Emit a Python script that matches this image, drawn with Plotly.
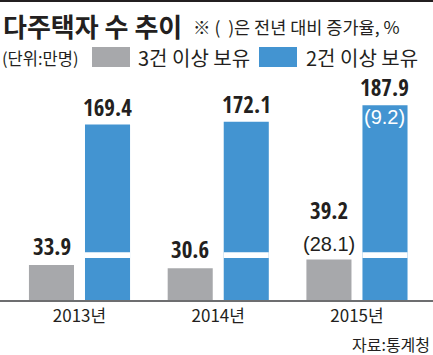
import plotly.graph_objects as go

# ---- data ----
years = ["2013년", "2014년", "2015년"]
series_names = ["3건 이상 보유", "2건 이상 보유"]
three_plus = [33.9, 30.6, 39.2]
two_plus = [169.4, 172.1, 187.9]
three_plus_growth = [None, None, 28.1]
two_plus_growth = [None, None, 9.2]

title_text = "다주택자 수 추이"
note_text = "※ (\u00a0\u00a0)은 전년 대비 증가율, %"
unit_text = "(단위:만명)"
source_text = "자료:통계청"

# ---- style ----
W, H = 433, 355
M_T, M_B = 80, 55
PLOT_H = H - M_T - M_B
GRAY = "#a7a8ab"
BLUE = "#4394d1"
DARK = "#231f20"
BREAK_LO, BREAK_HI = 40.5, 46.2
BOLD_NUM = "Open Sans Condensed, DejaVu Sans Condensed, Roboto, sans-serif"
REG_NUM = "Liberation Sans, Arial, Roboto, sans-serif"
KR_FONT = "Noto Sans CJK KR, Noto Sans, sans-serif"


def py(p):  # pixel y (from top) -> paper y
    return (H - M_B - p) / PLOT_H


def px(p):
    return p / W


fig = go.Figure()
fig.add_bar(x=years, y=three_plus, name=series_names[0], marker_color=GRAY,
            marker_line_width=0, offsetgroup="g")
fig.add_bar(x=years, y=two_plus, name=series_names[1], marker_color=BLUE,
            marker_line_width=0, offsetgroup="b")
# white break stripe across the blue bars
fig.add_bar(x=years, y=[BREAK_HI - BREAK_LO] * len(years), base=[BREAK_LO] * len(years),
            marker_color="white", marker_line_width=0, offsetgroup="b", showlegend=False,
            hoverinfo="skip")

ann = []
XOFF = 28
for i, yr in enumerate(years):
    g, b = three_plus[i], two_plus[i]
    if three_plus_growth[i] is not None:
        ann.append(dict(x=yr, y=g, xshift=-XOFF, yshift=2, yanchor="bottom",
                        text=f"({three_plus_growth[i]})", showarrow=False,
                        font=dict(family=REG_NUM, size=20, color=DARK)))
        ann.append(dict(x=yr, y=g, xshift=-XOFF, yshift=31, yanchor="bottom",
                        text=f"<b>{g}</b>", showarrow=False,
                        font=dict(family=BOLD_NUM, size=23, color=DARK)))
    else:
        ann.append(dict(x=yr, y=g, xshift=-XOFF, yshift=1, yanchor="bottom",
                        text=f"<b>{g}</b>", showarrow=False,
                        font=dict(family=BOLD_NUM, size=23, color=DARK)))
    ann.append(dict(x=yr, y=b, xshift=XOFF, yshift=0, yanchor="bottom",
                    text=f"<b>{b}</b>", showarrow=False,
                    font=dict(family=BOLD_NUM, size=23, color=DARK)))
    if two_plus_growth[i] is not None:
        ann.append(dict(x=yr, y=b, xshift=XOFF, yshift=1, yanchor="top",
                        text=f"({two_plus_growth[i]})", showarrow=False,
                        font=dict(family=REG_NUM, size=20, color="white")))

# header texts
ann.append(dict(xref="paper", yref="paper", x=px(1), y=py(25), xanchor="left", yanchor="middle",
                text=f"<b>{title_text}</b>", showarrow=False,
                font=dict(family=KR_FONT, size=26, color=DARK)))
ann.append(dict(xref="paper", yref="paper", x=px(191), y=py(26), xanchor="left", yanchor="middle",
                text=note_text, showarrow=False,
                font=dict(family=KR_FONT, size=17.5, color=DARK)))
ann.append(dict(xref="paper", yref="paper", x=px(0), y=py(58), xanchor="left", yanchor="middle",
                text=unit_text, showarrow=False,
                font=dict(family=KR_FONT, size=16.5, color=DARK)))
ann.append(dict(xref="paper", yref="paper", x=px(136), y=py(58), xanchor="left", yanchor="middle",
                text=series_names[0], showarrow=False,
                font=dict(family=KR_FONT, size=20, color=DARK)))
ann.append(dict(xref="paper", yref="paper", x=px(304), y=py(58), xanchor="left", yanchor="middle",
                text=series_names[1], showarrow=False,
                font=dict(family=KR_FONT, size=20, color=DARK)))
ann.append(dict(xref="paper", yref="paper", x=px(432), y=py(344), xanchor="right", yanchor="middle",
                text=source_text, showarrow=False,
                font=dict(family=KR_FONT, size=16, color=DARK)))

shapes = [
    dict(type="line", xref="paper", yref="paper", x0=0, x1=1, y0=py(1), y1=py(1),
         line=dict(color=DARK, width=2)),
    dict(type="rect", xref="paper", yref="paper", x0=px(92), x1=px(130), y0=py(67), y1=py(47),
         fillcolor=GRAY, line=dict(width=0)),
    dict(type="rect", xref="paper", yref="paper", x0=px(259), x1=px(297), y0=py(67), y1=py(47),
         fillcolor=BLUE, line=dict(width=0)),
]

fig.update_layout(
    width=W, height=H,
    margin=dict(l=0, r=0, t=M_T, b=M_B, pad=0),
    paper_bgcolor="white", plot_bgcolor="white",
    barmode="group", bargap=0.192, bargroupgap=0.196,
    showlegend=False,
    annotations=ann, shapes=shapes,
    xaxis=dict(type="category", range=[-0.573, 2.548], showgrid=False, zeroline=False,
               showline=True, linecolor="#6d6e70", linewidth=2, ticks="",
               tickfont=dict(family=KR_FONT, size=17, color=DARK)),
    yaxis=dict(range=[0, PLOT_H / 1.036], visible=False, showgrid=False, zeroline=False),
)

fig.write_html("out.html", config={"displayModeBar": False, "staticPlot": True},
               post_script="document.body.style.margin='0';")
